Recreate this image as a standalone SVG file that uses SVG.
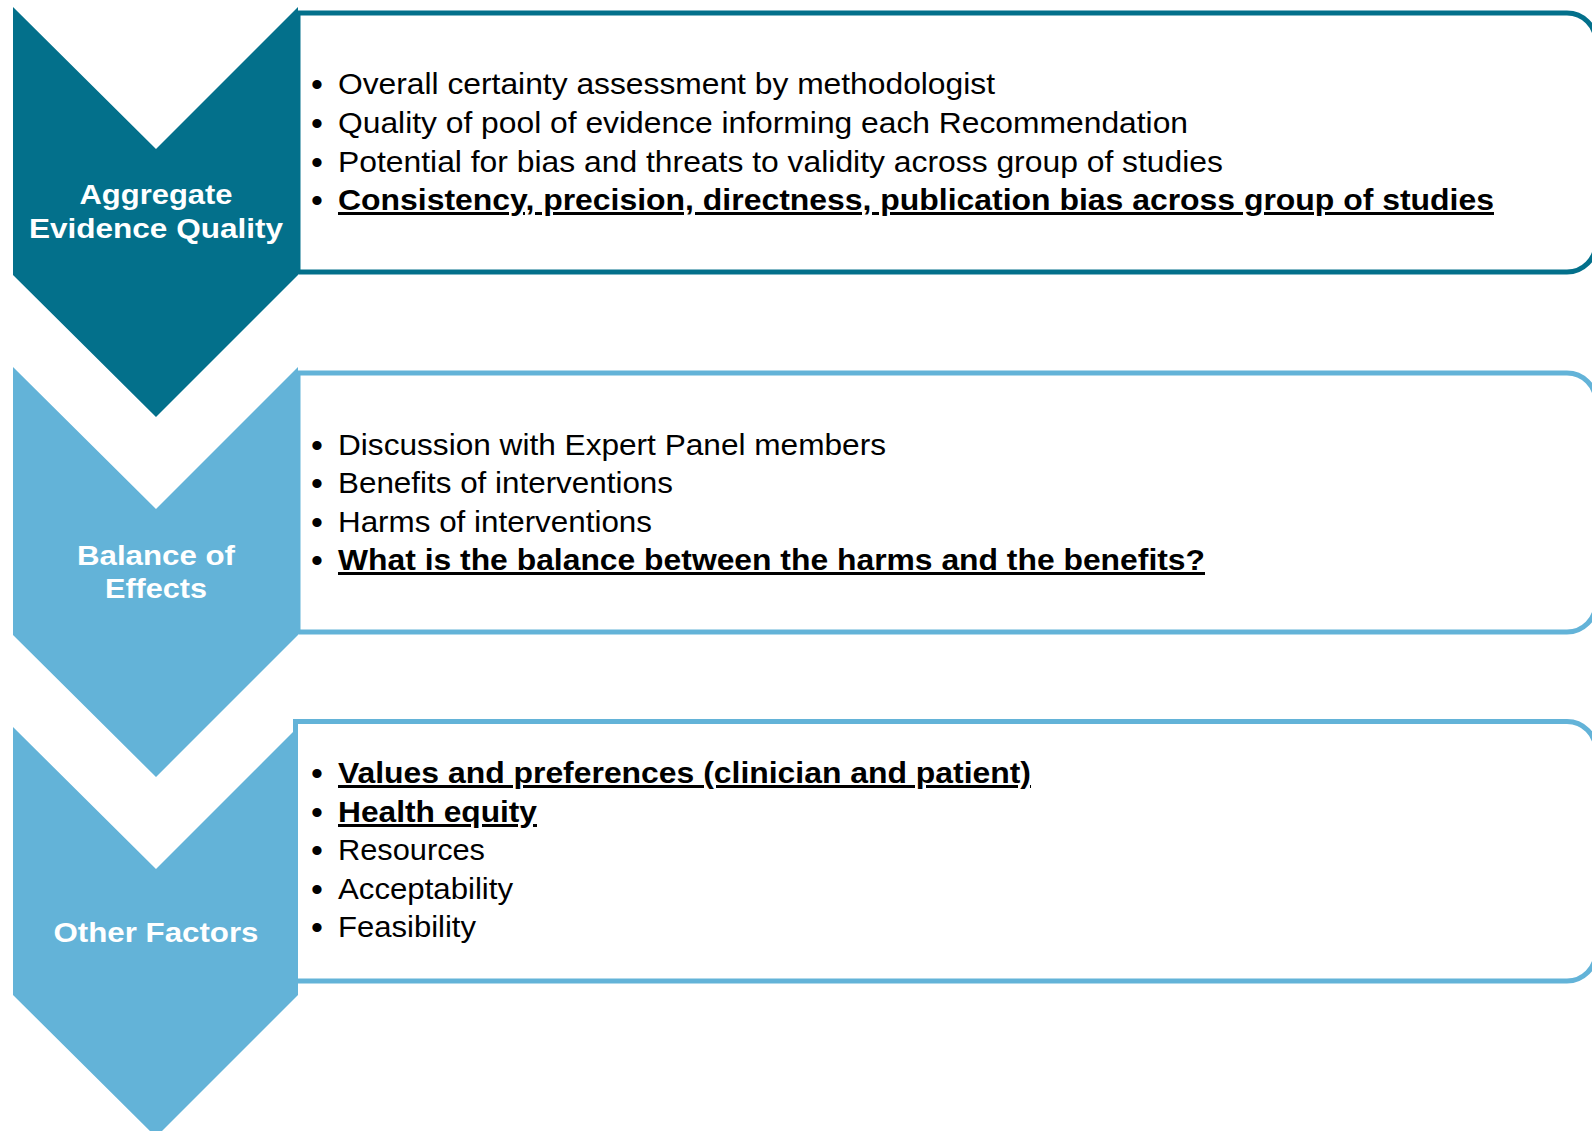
<svg xmlns="http://www.w3.org/2000/svg" width="1592" height="1131" viewBox="0 0 1592 1131">
<style>
.box{fill:#ffffff;stroke-width:5}
.dark{fill:#03708b}
.light{fill:#63b3d8}
.sdark{stroke:#03708b}
.slight{stroke:#63b3d8}
.lbl{font-family:"Liberation Sans",Arial,sans-serif;font-weight:bold;font-size:28px;fill:#ffffff;text-anchor:middle}
.it{font-family:"Liberation Sans",Arial,sans-serif;font-size:30px;fill:#000000}
.b{font-weight:bold;text-decoration:underline}
.bul{font-family:"Liberation Sans",Arial,sans-serif;font-size:34px;fill:#000000}
</style>
<rect width="1592" height="1131" fill="#ffffff"/>
<g id="box1">
<path class="box sdark" d="M298,13 H1567 A29,29 0 0 1 1596,42 V243 A29,29 0 0 1 1567,272 H298 Z"/>
<text class="bul" x="311" y="96">•</text>
<text class="it" x="338" y="94" textLength="657" lengthAdjust="spacingAndGlyphs">Overall certainty assessment by methodologist</text>
<text class="bul" x="311" y="135">•</text>
<text class="it" x="338" y="133" textLength="850" lengthAdjust="spacingAndGlyphs">Quality of pool of evidence informing each Recommendation</text>
<text class="bul" x="311" y="174">•</text>
<text class="it" x="338" y="172" textLength="885" lengthAdjust="spacingAndGlyphs">Potential for bias and threats to validity across group of studies</text>
<text class="bul" x="311" y="212">•</text>
<text class="it b" x="338" y="210" textLength="1156" lengthAdjust="spacingAndGlyphs">Consistency, precision, directness, publication bias across group of studies</text>
</g>
<g id="box2">
<path class="box slight" d="M298,373 H1567 A29,29 0 0 1 1596,402 V603 A29,29 0 0 1 1567,632 H298 Z"/>
<text class="bul" x="311" y="457">•</text>
<text class="it" x="338" y="455" textLength="548" lengthAdjust="spacingAndGlyphs">Discussion with Expert Panel members</text>
<text class="bul" x="311" y="495">•</text>
<text class="it" x="338" y="493" textLength="335" lengthAdjust="spacingAndGlyphs">Benefits of interventions</text>
<text class="bul" x="311" y="534">•</text>
<text class="it" x="338" y="532" textLength="314" lengthAdjust="spacingAndGlyphs">Harms of interventions</text>
<text class="bul" x="311" y="572">•</text>
<text class="it b" x="338" y="570" textLength="867" lengthAdjust="spacingAndGlyphs">What is the balance between the harms and the benefits?</text>
</g>
<g id="box3">
<path class="box slight" d="M295.5,721.5 H1567 A29,29 0 0 1 1596,750.5 V952 A29,29 0 0 1 1567,981 H295.5 Z"/>
<text class="bul" x="311" y="785">•</text>
<text class="it b" x="338" y="783" textLength="693" lengthAdjust="spacingAndGlyphs">Values and preferences (clinician and patient)</text>
<text class="bul" x="311" y="824">•</text>
<text class="it b" x="338" y="822" textLength="199" lengthAdjust="spacingAndGlyphs">Health equity</text>
<text class="bul" x="311" y="862">•</text>
<text class="it" x="338" y="860" textLength="147" lengthAdjust="spacingAndGlyphs">Resources</text>
<text class="bul" x="311" y="901">•</text>
<text class="it" x="338" y="899" textLength="175" lengthAdjust="spacingAndGlyphs">Acceptability</text>
<text class="bul" x="311" y="939">•</text>
<text class="it" x="338" y="937" textLength="138" lengthAdjust="spacingAndGlyphs">Feasibility</text>
</g>
<g id="chevron1">
<path class="dark" d="M13,7 L156,149 L298,7 L298,275 L156,417 L13,275 Z"/>
<text class="lbl" x="156" y="204" textLength="153" lengthAdjust="spacingAndGlyphs">Aggregate</text>
<text class="lbl" x="156" y="238" textLength="254" lengthAdjust="spacingAndGlyphs">Evidence Quality</text>
</g>
<g id="chevron2">
<path class="light" d="M13,367 L156,509 L298,367 L298,635 L156,777 L13,635 Z"/>
<text class="lbl" x="156" y="565" textLength="158" lengthAdjust="spacingAndGlyphs">Balance of</text>
<text class="lbl" x="156" y="598" textLength="102" lengthAdjust="spacingAndGlyphs">Effects</text>
</g>
<g id="chevron3">
<path class="light" d="M13,727 L156,869 L298,727 L298,995 L156,1137 L13,995 Z"/>
<text class="lbl" x="156" y="942" textLength="205" lengthAdjust="spacingAndGlyphs">Other Factors</text>
</g>
<g id="connectors"/>
</svg>
